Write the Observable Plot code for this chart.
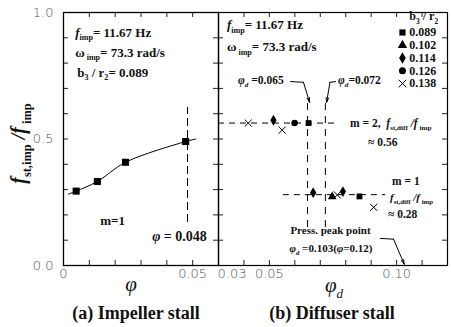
<!DOCTYPE html>
<html><head><meta charset="utf-8">
<script src="https://cdn.jsdelivr.net/npm/d3@7"></script>
<script src="https://cdn.jsdelivr.net/npm/@observablehq/plot@0.6"></script>
<style>
body{margin:0;background:#fff;}
#wrap{position:relative;width:451px;height:327px;overflow:hidden;}
#wrap svg{position:absolute;top:0;}
.cap{position:absolute;top:302px;width:220px;text-align:center;font:bold 18px "Liberation Serif","Times New Roman",serif;line-height:22px;color:#111;}
</style></head><body><div id="wrap"></div><script>
// ---------- data: (a) impeller stall ----------
const impPhi = [0.0049, 0.0131, 0.0240, 0.0473];
const impRatio = [0.294, 0.332, 0.408, 0.490];
const impFitPhi = [0.0019, 0.0049, 0.0131, 0.0240, 0.0473, 0.0512];
const impFitRatio = [0.282, 0.294, 0.332, 0.408, 0.490, 0.500];
const impStallPhi = 0.048;

// ---------- data: (b) diffuser stall ----------
const b3r2 = ["0.089", "0.102", "0.114", "0.126", "0.138"];
const m2Phi = [0.0417, 0.0516, 0.0550, 0.0599, 0.0654];
const m2Ratio = [0.563, 0.574, 0.535, 0.563, 0.563];
const m2Case = ["0.138", "0.114", "0.138", "0.126", "0.089"];
const m1Phi = [0.0672, 0.0747, 0.0767, 0.0789, 0.0854, 0.0910];
const m1Ratio = [0.288, 0.272, 0.279, 0.292, 0.273, 0.230];
const m1Case = ["0.114", "0.102", "0.138", "0.114", "0.089", "0.138"];
const m2Level = 0.563, m1Level = 0.28;
const diffStallPhi = [0.065, 0.072];
const peakPhi = 0.103;

// ---------- ticks ----------
const yMinor = [0, 0.1, 0.2, 0.3, 0.4, 0.5, 0.6, 0.7, 0.8, 0.9, 1.0];
const yLabels = [0, 0.5, 1.0];
const xMinorL = [0, 0.01, 0.02, 0.03, 0.04, 0.05];
const xLabelsL = [0, 0.05];
const xMinorR = [0.04, 0.05, 0.06, 0.07, 0.08, 0.09, 0.10, 0.11];
const xLabelsR = [0.05, 0.10];
const xFirstR = [0.03];

// ---------- helpers ----------
const serif = '"Liberation Serif", "Times New Roman", serif';
const sans = '"DejaVu Sans", sans-serif';
const symbolOf = {"0.089": "square", "0.102": "triangle", "0.114": "diamond", "0.126": "circle", "0.138": "times"};
const fmtX = d => d === 0 ? "0" : d.toFixed(2);
const tickStyle = {stroke: "#222", strokeWidth: 1};
const labStyle = {fontSize: 13, fontFamily: sans, fill: "#555", fontWeight: 300, label: null, tickSize: 0};

function insideTicks(xt, yt, fw, fh, len) {
  return [
    Plot.tickY(yt, {y: d => d, insetRight: fw - len, ...tickStyle}),
    Plot.tickY(yt, {y: d => d, insetLeft: fw - len, ...tickStyle}),
    Plot.tickX(xt, {x: d => d, insetBottom: fh - len, ...tickStyle}),
    Plot.tickX(xt, {x: d => d, insetTop: fh - len, ...tickStyle})
  ];
}
function symbolDots(rows, r) {
  return b3r2.map(k => {
    const s = symbolOf[k];
    const paint = s === "times" ? {stroke: "black", fill: "none", strokeWidth: 1} : {fill: "black", stroke: "none"};
    return Plot.dot(rows.filter(d => d.k === k), {x: "x", y: "y", symbol: s, r, ...paint});
  });
}
// rich text (italic / subscript parts) placed at pixel position
function rich(svg, px, py, parts, o = {}) {
  const size = o.size || 13;
  const t = d3.select(svg).append("text")
    .attr("x", px).attr("y", py + size * 0.35)
    .attr("font-family", serif).attr("font-size", size)
    .attr("font-weight", o.weight || "bold")
    .attr("text-anchor", o.anchor || "start").attr("fill", "#111")
    .style("white-space", "pre");
  if (o.rotate) t.attr("transform", `rotate(${o.rotate},${px},${py})`);
  let shift = 0;
  for (const [txt, st = ""] of parts) {
    const s = t.append("tspan").text(txt);
    const target = st.includes("s") ? size * 0.28 : 0;
    if (target !== shift) { s.attr("dy", target - shift); shift = target; }
    if (st.includes("s")) s.attr("font-size", size * 0.62);
    if (st.includes("i")) s.attr("font-style", "italic");
  }
}
function at(plot, x, y, parts, o) {
  rich(plot, plot.scale("x").apply(x), plot.scale("y").apply(y), parts, o);
}

const wrap = document.getElementById("wrap");

// ---------- (a) impeller stall ----------
const imp = impPhi.map((x, i) => ({x, y: impRatio[i]}));
const impFit = impFitPhi.map((x, i) => ({x, y: impFitRatio[i]}));
const left = Plot.plot({
  width: 220, height: 300, marginLeft: 63, marginRight: 2, marginTop: 12, marginBottom: 35,
  x: {domain: [0, 0.06]}, y: {domain: [0, 1]},
  style: {background: "transparent", overflow: "visible"},
  marks: [
    ...insideTicks(xMinorL, yMinor, 155, 253, 5),
    Plot.frame({strokeWidth: 1.3}),
    Plot.axisY({ticks: yLabels, tickPadding: 10, tickFormat: d => d.toFixed(1), ...labStyle}),
    Plot.axisX({ticks: xLabelsL, tickPadding: 3, tickFormat: fmtX, ...labStyle}),
    Plot.ruleX([{x: impStallPhi, y1: 0.17, y2: 0.625}], {x: "x", y1: "y1", y2: "y2", strokeDasharray: "8,4", strokeWidth: 1}),
    Plot.line(impFit, {x: "x", y: "y", curve: "catmull-rom", strokeWidth: 1}),
    Plot.dot(imp, {x: "x", y: "y", symbol: "square", r: 4, fill: "black"}),
    Plot.text(["m=1"], {x: 0.019, y: 0.178, fontFamily: serif, fontWeight: "bold", fontSize: 13, fill: "#111"})
  ]
});
left.style.left = "0px";
wrap.appendChild(left);
at(left, 0.0047, 0.921, [["f", "i"], ["imp", "s"], ["= 11.67 Hz"]]);
at(left, 0.0047, 0.842, [["ω", ""], [" imp", "s"], ["= 73.3 rad/s"]]);
at(left, 0.0055, 0.763, [["b"], ["3", "s"], [" / r"], ["2", "s"], ["= 0.089"]]);
at(left, 0.0345, 0.115, [["φ", "i"], [" = 0.048"]], {size: 14});
rich(left, 18, left.scale("y").apply(0.48), [["f", "i"], ["st,imp", "s"], [" /", "i"], ["f", "i"], [" imp", "s"]], {size: 20, rotate: -90, anchor: "middle"});
rich(left, 131, 284, [["φ", "i"]], {size: 21, weight: "normal", anchor: "middle"});

// ---------- (b) diffuser stall ----------
const m2 = m2Phi.map((x, i) => ({x, y: m2Ratio[i], k: m2Case[i]}));
const m1 = m1Phi.map((x, i) => ({x, y: m1Ratio[i], k: m1Case[i]}));
const legendRows = b3r2.map((k, i) => ({k, x: 0.1023, y: 0.921 - i * 0.0505}));
const leaders = [
  {pts: [[0.0583, 0.727], [0.0634, 0.724]], tip: [0.0658, 0.645]},
  {pts: [[0.0760, 0.727], [0.0738, 0.724]], tip: [0.0725, 0.645]},
  {pts: [[0.0937, 0.107], [0.0988, 0.104]], tip: [peakPhi, 0.005]}
];
const right = Plot.plot({
  width: 241, height: 300, marginLeft: 8, marginRight: 4, marginTop: 12, marginBottom: 35,
  x: {domain: [0.03, 0.12], axis: null}, y: {domain: [0, 1], axis: null},
  style: {background: "transparent", overflow: "visible"},
  marks: [
    ...insideTicks(xMinorR, yMinor, 229, 253, 5),
    Plot.frame({strokeWidth: 1.2}),
    Plot.axisX({ticks: xFirstR, tickPadding: 3, tickFormat: fmtX, textAnchor: "start", dx: -1, ...labStyle}),
    Plot.axisX({ticks: xLabelsR, tickPadding: 3, tickFormat: fmtX, ...labStyle}),
    Plot.ruleY([{y: m2Level, x1: 0.03, x2: 0.0765}], {y: "y", x1: "x1", x2: "x2", strokeDasharray: "6,5", strokeWidth: 1}),
    Plot.ruleY([{y: m1Level, x1: 0.0555, x2: 0.0957}], {y: "y", x1: "x1", x2: "x2", strokeDasharray: "6,5", strokeWidth: 1}),
    Plot.ruleX(diffStallPhi.map(x => ({x, y1: 0.15, y2: 0.65})), {x: "x", y1: "y1", y2: "y2", strokeDasharray: "7,6", strokeWidth: 1}),
    ...symbolDots(m2, 3.3),
    ...symbolDots(m1, 3.3),
    ...symbolDots(legendRows, 3.5),
    Plot.text(legendRows, {x: 0.105, y: "y", text: "k", textAnchor: "start", fontFamily: serif, fontWeight: "bold", fontSize: 12, fill: "#111"}),
    ...leaders.map(l => Plot.line(l.pts, {x: d => d[0], y: d => d[1], strokeWidth: 1})),
    Plot.arrow(leaders, {x1: d => d.pts[1][0], y1: d => d.pts[1][1], x2: d => d.tip[0], y2: d => d.tip[1], headLength: 7, headAngle: 30, strokeWidth: 1}),
    Plot.text(["Press. peak point"], {x: 0.074, y: 0.138, fontFamily: serif, fontWeight: "bold", fontSize: 11, fill: "#111"})
  ]
});
right.style.left = "210px";
wrap.appendChild(right);
at(right, 0.0335, 0.949, [["f", "i"], ["imp", "s"], ["= 11.67 Hz"]]);
at(right, 0.0335, 0.863, [["ω", ""], [" imp", "s"], ["= 73.3 rad/s"]]);
at(right, 0.1052, 0.984, [["b"], ["3", "s"], [" / r"], ["2", "s"]], {size: 12});
at(right, 0.0379, 0.731, [["φ", "i"], ["d", "si"], [" =0.065"]], {size: 11.5});
at(right, 0.0772, 0.731, [["φ", "i"], ["d", "si"], ["=0.072"]], {size: 11.5});
at(right, 0.0819, m2Level, [["m = 2,  "], ["f", "i"], ["st,diff", "s"], [" /", "i"], ["f", "i"], [" imp", "s"]], {size: 11.5});
at(right, 0.0890, 0.486, [["≈ 0.56"]], {size: 11.5});
at(right, 0.0984, 0.332, [["m = 1"]], {size: 11.5});
at(right, 0.0976, 0.268, [["f", "i"], ["st,diff", "s"], [" /", "i"], ["f", "i"], [" imp", "s"]], {size: 11});
at(right, 0.0968, 0.201, [["≈ 0.28"]], {size: 11.5});
at(right, 0.0744, 0.067, [["φ", "i"], ["d", "si"], [" =0.103("], ["φ", "i"], ["=0.12)"]], {size: 11, anchor: "middle"});
rich(right, 124, 285, [["φ", "i"], ["d", "si"]], {size: 21, weight: "normal", anchor: "middle"});

// ---------- captions ----------
const capA = document.createElement("div");
capA.className = "cap"; capA.style.left = "26px"; capA.textContent = "(a) Impeller stall";
const capB = document.createElement("div");
capB.className = "cap"; capB.style.left = "222px"; capB.textContent = "(b) Diffuser stall";
wrap.appendChild(capA); wrap.appendChild(capB);
</script></body></html>
